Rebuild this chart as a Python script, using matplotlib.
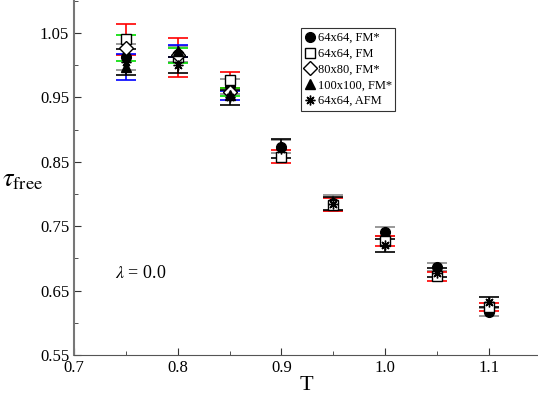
import matplotlib.pyplot as plt
from matplotlib.ticker import MultipleLocator
from matplotlib.lines import Line2D

plt.rcParams['font.family'] = ['Liberation Serif', 'DejaVu Serif']
plt.rcParams['mathtext.fontset'] = 'stix'

# temperatures
T_all = [0.75, 0.80, 0.85, 0.90, 0.95, 1.00, 1.05, 1.10]
T_low = [0.75, 0.80, 0.85]

# 64x64, FM*
fm64 = [1.013, 1.017, 0.967, 0.873, 0.786, 0.741, 0.687, 0.617]
fm64_err = [0.020, 0.012, 0.012, 0.010, 0.012, 0.007, 0.006, 0.006]
# 64x64, FM
fm64b = [1.040, 1.012, 0.977, 0.858, 0.783, 0.727, 0.672, 0.625]
fm64b_err = [0.024, 0.030, 0.012, 0.010, 0.010, 0.008, 0.007, 0.006]
# 80x80, FM*
fm80 = [1.026, 1.015, 0.958]
fm80_err = [0.020, 0.012, 0.006]
# 100x100, FM*
fm100 = [0.997, 1.022, 0.953]
fm100_err = [0.020, 0.009, 0.007]
# 64x64, AFM
afm64 = [1.005, 1.000, 0.950, 0.870, 0.785, 0.720, 0.678, 0.632]
afm64_err = [0.020, 0.012, 0.012, 0.015, 0.010, 0.010, 0.007, 0.008]

labels = ['64x64, FM*', '64x64, FM', '80x80, FM*', '100x100, FM*', '64x64, AFM']
markers = ['o', 's', 'D', '^', (8, 2, 0)]
faces = ['black', 'white', 'white', 'black', 'black']

fig = plt.figure(figsize=(5.38, 4.08), dpi=100)
ax = fig.add_axes([74 / 538, 53 / 408, 1 - 74 / 538, 1 - 53 / 408])

kw = dict(linestyle='none', capsize=7, elinewidth=1.2, capthick=1.2, markersize=7, color='black')
ax.errorbar(T_all, fm64, yerr=fm64_err, marker=markers[0], mfc=faces[0], ecolor='#888888', **kw)
ax.errorbar(T_all, fm64b, yerr=fm64b_err, marker=markers[1], mfc=faces[1], ecolor='red', **kw)
ax.errorbar(T_low, fm80, yerr=fm80_err, marker=markers[2], mfc=faces[2], ecolor='#00dd00', **kw)
ax.errorbar(T_low, fm100, yerr=fm100_err, marker=markers[3], mfc=faces[3], ecolor='blue', **kw)
ax.errorbar(T_all, afm64, yerr=afm64_err, marker=markers[4], mfc=faces[4], ecolor='black', **kw)

ax.set_xlim(0.7, 1.1475)
ax.set_ylim(0.55, 1.101)
ax.xaxis.set_major_locator(MultipleLocator(0.1))
ax.xaxis.set_minor_locator(MultipleLocator(0.05))
ax.set_yticks([0.55, 0.65, 0.75, 0.85, 0.95, 1.05])
ax.yaxis.set_minor_locator(MultipleLocator(0.05))
ax.xaxis.set_major_formatter(plt.FormatStrFormatter('%.1f'))
ax.yaxis.set_major_formatter(plt.FormatStrFormatter('%.2f'))
ax.tick_params(direction='in', which='both', labelsize=12, colors='#333333', labelcolor='black')
ax.tick_params(which='major', length=5)
ax.tick_params(which='minor', length=3)
for s in ['top', 'right']:
    ax.spines[s].set_visible(False)
ax.spines['left'].set_color('#777777')
ax.spines['left'].set_linewidth(1.5)
ax.spines['bottom'].set_color('#555555')

ax.set_xlabel('T', fontsize=16, labelpad=0)
ax.set_ylabel(r'$\tau_{\mathrm{free}}$', fontsize=19, rotation=0)
ax.yaxis.set_label_coords(-0.11, 0.46)

ax.text(0.74, 0.67, r'$\lambda$ = 0.0', fontsize=13)

handles = [Line2D([], [], linestyle='none', marker=m, mfc=f, mec='black', color='black',
                  markersize=7) for m, f in zip(markers, faces)]
leg = ax.legend(handles, labels, loc='upper left', bbox_to_anchor=(0.49, 0.92), fontsize=9,
                frameon=True, fancybox=False, edgecolor='black', handlelength=0.8,
                handletextpad=0.2, borderpad=0.3, labelspacing=0.3, borderaxespad=0)
leg.get_frame().set_linewidth(0.8)

fig.savefig('out.png', dpi=100)
